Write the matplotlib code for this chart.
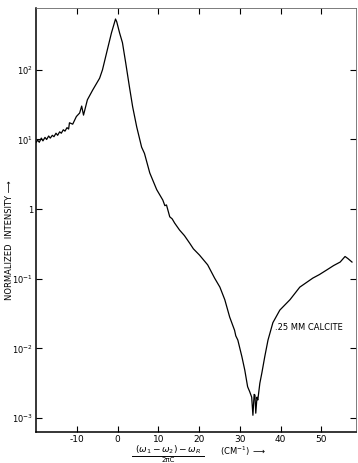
import matplotlib
matplotlib.use("Agg")
import matplotlib.pyplot as plt
from matplotlib.lines import Line2D
import numpy as np

# shift (cm^-1) and log10 of normalized intensity
shift = [-20.1, -19.6, -19.2, -18.7, -18.3, -17.8, -17.4, -16.9, -16.5, -16.0,
         -15.6, -15.1, -14.7, -14.2, -13.8, -13.3, -12.9, -12.4, -12.0, -11.8,
         -11.0, -10.1, -9.3, -8.8, -8.35, -7.4, -6.1, -4.4, -3.7, -2.5,
         -1.5, -0.5, -0.2, 0.5, 1.2, 2.0, 2.9, 3.7, 4.7, 5.9,
         6.6, 7.9, 9.6, 11.1, 11.6, 12.0, 12.8, 13.4, 14.0, 15.2,
         16.4, 17.7, 18.6, 20.1, 22.1, 23.8, 25.1, 26.3, 27.5, 28.7,
         29.0, 29.5, 30.5, 31.2, 31.9, 32.4, 32.9, 33.2, 33.5, 33.7,
         33.9, 34.2, 34.4, 34.9, 35.4, 36.1, 36.9, 38.1, 39.8, 42.3,
         44.7, 47.9, 49.5, 51.4, 53.0, 54.6, 55.8, 56.5, 57.5]
log_int = [0.95, 0.99, 0.96, 1.02, 0.98, 1.03, 1.00, 1.05, 1.02, 1.06,
           1.04, 1.09, 1.06, 1.11, 1.09, 1.14, 1.12, 1.17, 1.15, 1.24,
           1.22, 1.33, 1.38, 1.48, 1.35, 1.57, 1.71, 1.88, 2.00, 2.29,
           2.53, 2.73, 2.69, 2.53, 2.39, 2.10, 1.76, 1.47, 1.18, 0.89,
           0.80, 0.52, 0.28, 0.13, 0.05, 0.06, -0.11, -0.14, -0.20, -0.30,
           -0.38, -0.49, -0.57, -0.66, -0.80, -0.99, -1.12, -1.30, -1.55, -1.74,
           -1.82, -1.88, -2.12, -2.31, -2.55, -2.62, -2.70, -2.96, -2.66, -2.67,
           -2.93, -2.70, -2.74, -2.50, -2.35, -2.12, -1.88, -1.63, -1.45, -1.30,
           -1.12, -0.99, -0.94, -0.87, -0.81, -0.76, -0.68, -0.71, -0.76]

xticks = [-10, 0, 10, 20, 30, 40, 50]
ydecades = [2, 1, 0, -1, -2, -3]
ylabels = [r"$10^{2}$", r"$10^{1}$", "1", r"$10^{-1}$", r"$10^{-2}$", r"$10^{-3}$"]

intensity = 10.0 ** np.array(log_int)

fig = plt.figure(figsize=(3.58, 4.63), dpi=100)
ax = fig.add_axes([0.1006, 0.067, 0.894, 0.916])
ax.plot(shift, intensity, color="black", lw=0.9)

ax.set_yscale("log")
ax.set_xlim(-20, 58.5)
ax.set_ylim(10 ** -3.2, 10 ** 2.89)
ax.set_xticks(xticks)
ax.set_xticklabels([str(t) for t in xticks])
ax.set_yticks([10.0 ** d for d in ydecades])
ax.set_yticklabels(ylabels)
ax.minorticks_off()
ax.tick_params(direction="in", length=4, width=0.8, labelsize=6.5,
               top=True, right=True, pad=2)
ax.tick_params(axis="y", labelsize=6, pad=2)

for side in ["left", "bottom"]:
    ax.spines[side].set_linewidth(1.1)
for side in ["top", "right"]:
    ax.spines[side].set_linewidth(0.6)
    ax.spines[side].set_color("#666666")

ax.text(38.7, 10 ** -1.7, ".25 MM CALCITE", fontsize=6, va="center", ha="left")

fig.text(10 / 358, 1 - 240 / 463, "NORMALIZED  INTENSITY \u27f6", rotation=90,
         fontsize=6, ha="center", va="center")

# x label: fraction drawn as numerator / bar / denominator
fig.text(168 / 358, 1 - 455.5 / 463, r"$(\omega_1-\omega_2)-\omega_R$",
         fontsize=6.5, ha="center", va="bottom")
fig.add_artist(Line2D([132 / 358, 204 / 358], [1 - 456 / 463, 1 - 456 / 463],
                      color="black", lw=0.7))
fig.text(168 / 358, 0.5 / 463, "2\u03c0C", fontsize=5,
         ha="center", va="bottom")
fig.text(220 / 358, 1 - 451 / 463, r"(CM$^{-1}$) $\longrightarrow$",
         fontsize=6, ha="left", va="center")

fig.savefig("out.png", dpi=100)
